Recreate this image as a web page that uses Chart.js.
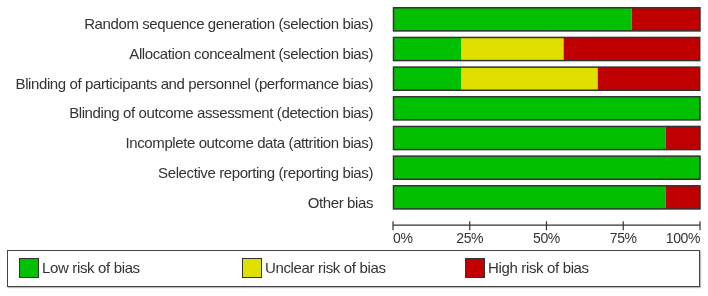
<!DOCTYPE html>
<html>
<head>
<meta charset="utf-8">
<script src="https://cdn.jsdelivr.net/npm/chart.js@4/dist/chart.umd.min.js"></script>
<style>
  html, body { margin: 0; padding: 0; background: #fff; }
  #wrap { position: relative; width: 708px; height: 296px; font-family: "Liberation Sans", Arial, sans-serif; }
  #chartBox { position: absolute; left: 0; top: 0; width: 708px; height: 250px; }
  #legend {
    position: absolute; left: 7px; top: 250px; width: 680px; height: 35px;
    border: 1px solid #444; box-shadow: 1px 1px 1px #bbb; background: #fff;
    padding-left: 11px; box-sizing: content-box;
  }
  #legend .item { display: inline-block; width: 223px; height: 35px; position: relative; vertical-align: top; }
  #legend .swatch { position: absolute; left: 0; top: 7px; width: 18px; height: 18px; border: 1px solid #333; }
  #legend .text { position: absolute; left: 23px; top: 8px; font-size: 15px; color: #333; line-height: 18px; white-space: nowrap; letter-spacing: -0.35px; }
</style>
</head>
<body>
<div id="wrap">
  <div id="chartBox"><canvas id="robChart"></canvas></div>
  <div id="legend"></div>
</div>
<script>
// 항목 이름 (위에서 아래 순서)
const categories = [
  'Random sequence generation (selection bias)',
  'Allocation concealment (selection bias)',
  'Blinding of participants and personnel (performance bias)',
  'Blinding of outcome assessment (detection bias)',
  'Incomplete outcome data (attrition bias)',
  'Selective reporting (reporting bias)',
  'Other bias'
];

// 비율 (%)
const lowRisk     = [77.8, 22.2, 22.2, 100, 88.9, 100, 88.9];
const unclearRisk = [0, 33.3, 44.4, 0, 0, 0, 0];
const highRisk    = [22.2, 44.4, 33.3, 0, 11.1, 0, 11.1];

const xTicks = [0, 25, 50, 75, 100];

const seriesLabels = ['Low risk of bias', 'Unclear risk of bias', 'High risk of bias'];
const seriesColors = ['#00c000', '#e0e000', '#c00000'];

const FONT = '"Liberation Sans", Arial, sans-serif';
const X_TICK_LEN = 13;

// 막대 전체 테두리 + x축 선/눈금
const outlinePlugin = {
  id: 'outline',
  beforeDraw(chart) {
    chart.ctx.letterSpacing = '-0.4px';  // 원본 글꼴이 조금 좁음
  },
  afterDatasetsDraw(chart) {
    const ctx = chart.ctx;
    ctx.save();
    ctx.strokeStyle = '#333';
    ctx.lineWidth = 1.5;
    categories.forEach((c, i) => {
      let left = Infinity, right = -Infinity, top = 0, h = 0;
      chart.data.datasets.forEach((ds, d) => {
        const el = chart.getDatasetMeta(d).data[i];
        if (!el) return;
        left = Math.min(left, el.base, el.x);
        right = Math.max(right, el.base, el.x);
        top = el.y - el.height / 2;
        h = el.height;
      });
      ctx.strokeRect(left, top, right - left, h);
    });
    ctx.restore();
  },
  afterDraw(chart) {
    const ctx = chart.ctx;
    const xs = chart.scales.x;
    const y = xs.top + X_TICK_LEN;
    ctx.save();
    ctx.strokeStyle = '#333';
    ctx.lineWidth = 1.2;
    ctx.beginPath();
    ctx.moveTo(xs.getPixelForValue(0), y);
    ctx.lineTo(xs.getPixelForValue(100), y);
    xTicks.forEach(v => {
      const px = xs.getPixelForValue(v);
      ctx.moveTo(px, y - 4);
      ctx.lineTo(px, y + 5);
    });
    ctx.stroke();
    ctx.restore();
  }
};

const ctx = document.getElementById('robChart');
const chart = new Chart(ctx, {
  type: 'bar',
  data: {
    labels: categories,
    datasets: [
      { label: seriesLabels[0], data: lowRisk, backgroundColor: seriesColors[0] },
      { label: seriesLabels[1], data: unclearRisk, backgroundColor: seriesColors[1] },
      { label: seriesLabels[2], data: highRisk, backgroundColor: seriesColors[2] }
    ]
  },
  options: {
    indexAxis: 'y',
    responsive: true,
    maintainAspectRatio: false,
    animation: false,
    layout: { padding: { top: 0, right: 8, left: 0, bottom: -4 } },
    datasets: {
      bar: { barPercentage: 1, categoryPercentage: 0.78, borderWidth: 0 }
    },
    plugins: {
      legend: { display: false },  // 범례는 HTML로 별도 표시
      tooltip: { enabled: false }
    },
    scales: {
      x: {
        stacked: true,
        min: 0,
        max: 100,
        afterBuildTicks(scale) { scale.ticks = xTicks.map(v => ({ value: v })); },
        ticks: {
          align: 'inner',
          padding: 6,
          maxRotation: 0,
          color: '#333',
          font: { family: FONT, size: 14 },
          callback: v => v + '%'
        },
        grid: { display: true, drawOnChartArea: false, drawTicks: true, tickLength: X_TICK_LEN, color: 'rgba(0,0,0,0)' },
        border: { display: false }
      },
      y: {
        stacked: true,
        afterFit(scale) { scale.width = 393; },
        ticks: {
          padding: 0,
          labelOffset: 6,
          color: '#333',
          font: { family: FONT, size: 15, lineHeight: 0.6 }
        },
        grid: { display: true, drawOnChartArea: false, drawTicks: true, tickLength: 20, color: 'rgba(0,0,0,0)' },
        border: { display: false }
      }
    }
  },
  plugins: [outlinePlugin]
});

// HTML 범례
const legendEl = document.getElementById('legend');
chart.data.datasets.forEach(ds => {
  const item = document.createElement('div');
  item.className = 'item';
  item.innerHTML = '<span class="swatch" style="background:' + ds.backgroundColor + '"></span>' +
                   '<span class="text">' + ds.label + '</span>';
  legendEl.appendChild(item);
});
</script>
</body>
</html>
